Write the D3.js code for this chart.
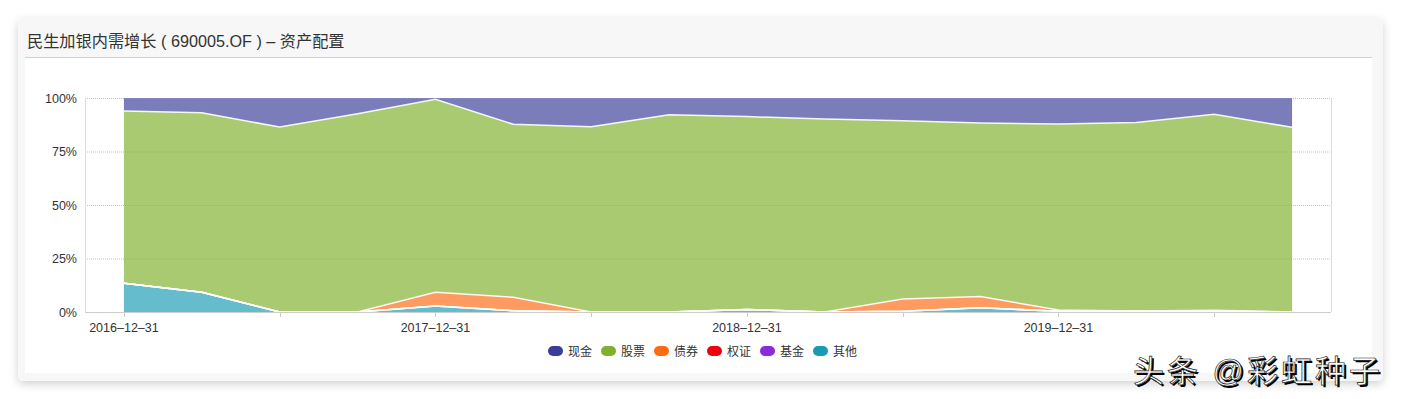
<!DOCTYPE html>
<html>
<head>
<meta charset="utf-8">
<script src="https://cdn.jsdelivr.net/npm/d3@7"></script>
<style>
  body { margin: 0; background: #fff; }
  svg text { font-family: "Liberation Sans", "Noto Sans CJK SC", sans-serif; }
</style>
</head>
<body>
<svg id="chart"></svg>
<script>
var width = 1401;
var height = 399;

// quarterly report dates
var dates = ['2016-12-31', '2017-03-31', '2017-06-30', '2017-09-30', '2017-12-31', '2018-03-31',
  '2018-06-30', '2018-09-30', '2018-12-31', '2019-03-31', '2019-06-30', '2019-09-30',
  '2019-12-31', '2020-03-31', '2020-06-30', '2020-09-30'];

// percentages
var other  = [13.4, 9.2, 0, 0, 2.8, 0.6, 0, 0, 1.2, 0, 0.4, 2.0, 0.3, 0.3, 0.3, 0];
var fund   = [0, 0, 0, 0, 0, 0, 0, 0, 0, 0, 0, 0, 0, 0, 0, 0];
var warrant = [0, 0, 0, 0, 0, 0, 0, 0, 0, 0, 0, 0, 0, 0, 0, 0];
var bonds  = [0, 0, 0, 0, 6.4, 6.3, 0, 0, 0, 0, 5.7, 5.2, 0.6, 0.2, 0.5, 0];
var stocks = [80.5, 83.9, 86.4, 92.6, 90.2, 80.8, 86.6, 92.2, 90.1, 90.2, 83.3, 81.1, 87.0, 88.1, 91.6, 86.3];
var cash   = [6.1, 6.9, 13.6, 7.4, 0.6, 12.3, 13.4, 7.8, 8.7, 9.8, 10.6, 11.7, 12.1, 11.4, 7.6, 13.7];

var yTicks = [0, 25, 50, 75, 100];

var legendNames = ['现金', '股票', '债券', '权证', '基金', '其他'];
var legendColors = ['#3a3d99', '#80b02c', '#ff6a13', '#ee0011', '#8b2ad8', '#1a9bb3'];

// stacking goes bottom up
var seriesKeys = ['其他', '基金', '权证', '债券', '股票', '现金'];
var seriesVals = { '其他': other, '基金': fund, '权证': warrant, '债券': bonds, '股票': stocks, '现金': cash };
var colorOf = {};
legendNames.forEach(function(n, i) { colorOf[n] = legendColors[i]; });

var rows = dates.map(function(d, i) {
  var r = { date: d };
  seriesKeys.forEach(function(k) { r[k] = seriesVals[k][i]; });
  return r;
});

var svg = d3.select('#chart')
    .attr('width', width)
    .attr('height', height);

// card
var defs = svg.append('defs');
var f = defs.append('filter').attr('id', 'shadow').attr('x', '-5%').attr('y', '-10%').attr('width', '110%').attr('height', '125%');
f.append('feDropShadow').attr('dx', 0).attr('dy', 3).attr('stdDeviation', 4).attr('flood-color', '#000').attr('flood-opacity', 0.18);

svg.append('rect')
    .attr('x', 18).attr('y', 18).attr('width', 1365).attr('height', 363)
    .attr('rx', 5)
    .attr('fill', '#f7f7f7')
    .attr('filter', 'url(#shadow)');
svg.append('rect')
    .attr('x', 25).attr('y', 58).attr('width', 1347).attr('height', 315)
    .attr('fill', '#fff');
svg.append('line')
    .attr('x1', 25).attr('x2', 1372).attr('y1', 57.5).attr('y2', 57.5)
    .attr('stroke', '#d0d0d0');

svg.append('text')
    .attr('x', 27).attr('y', 47)
    .attr('font-size', 16.2)
    .attr('fill', '#333')
    .text('民生加银内需增长 ( 690005.OF ) – 资产配置');

// plot
var plotLeft = 85, plotRight = 1331, plotTop = 98, plotBottom = 312;

var x = d3.scalePoint()
    .domain(dates)
    .range([plotLeft, plotRight])
    .padding(0.5);

var y = d3.scaleLinear()
    .domain([0, 100])
    .range([plotBottom, plotTop]);

var g = svg.append('g');

var stack = d3.stack().keys(seriesKeys);
var layers = stack(rows);

var area = d3.area()
    .x(function(d) { return x(d.data.date); })
    .y0(function(d) { return y(d[0]); })
    .y1(function(d) { return y(d[1]); });

var line = d3.line()
    .x(function(d) { return x(d.data.date); })
    .y(function(d) { return y(d[1]); });

g.selectAll('path.area')
    .data(layers)
  .enter().append('path')
    .attr('class', 'area')
    .attr('d', area)
    .attr('fill', function(d) { return colorOf[d.key]; })
    .attr('fill-opacity', 0.67);

// grid lines on top of the areas
g.selectAll('line.grid')
    .data(yTicks.filter(function(t) { return t > 0; }))
  .enter().append('line')
    .attr('class', 'grid')
    .attr('x1', plotLeft).attr('x2', plotRight)
    .attr('y1', function(d) { return y(d) + 0.5; })
    .attr('y2', function(d) { return y(d) + 0.5; })
    .attr('stroke', '#999')
    .attr('stroke-opacity', 0.6)
    .attr('stroke-dasharray', '1,1');

g.selectAll('path.edge')
    .data(layers.filter(function(d) { return d.key !== '现金'; }))
  .enter().append('path')
    .attr('class', 'edge')
    .attr('d', line)
    .attr('fill', 'none')
    .attr('stroke', '#fff')
    .attr('stroke-width', 1.5)
    .attr('stroke-opacity', 0.9);

// frame lines
g.append('line')
    .attr('x1', plotLeft + 0.5).attr('x2', plotLeft + 0.5).attr('y1', plotTop).attr('y2', plotBottom)
    .attr('stroke', '#ddd');
g.append('line')
    .attr('x1', plotRight + 0.5).attr('x2', plotRight + 0.5).attr('y1', plotTop).attr('y2', plotBottom)
    .attr('stroke', '#ddd');

// y axis labels
g.selectAll('text.ylab')
    .data(yTicks)
  .enter().append('text')
    .attr('class', 'ylab')
    .attr('x', 77)
    .attr('y', function(d) { return y(d) + 4.5; })
    .attr('text-anchor', 'end')
    .attr('font-size', 12.5)
    .attr('fill', '#333')
    .text(function(d) { return d + '%'; });

// x axis
g.append('line')
    .attr('x1', plotLeft).attr('x2', plotRight).attr('y1', plotBottom + 0.5).attr('y2', plotBottom + 0.5)
    .attr('stroke', '#ccc');

var tickDates = dates.filter(function(d, i) { return i % 2 === 0; });
g.selectAll('line.xtick')
    .data(tickDates)
  .enter().append('line')
    .attr('class', 'xtick')
    .attr('x1', function(d) { return Math.round(x(d)) + 0.5; })
    .attr('x2', function(d) { return Math.round(x(d)) + 0.5; })
    .attr('y1', plotBottom).attr('y2', plotBottom + 5)
    .attr('stroke', '#ccc');

g.selectAll('text.xlab')
    .data(dates.filter(function(d, i) { return i % 4 === 0; }))
  .enter().append('text')
    .attr('class', 'xlab')
    .attr('x', function(d) { return x(d); })
    .attr('y', 332)
    .attr('text-anchor', 'middle')
    .attr('font-size', 12.5)
    .attr('fill', '#333')
    .text(function(d) { return d.replace(/-/g, '–'); });

// legend
var lg = svg.append('g').attr('transform', 'translate(548,346)');
var item = lg.selectAll('g.item')
    .data(legendNames)
  .enter().append('g')
    .attr('class', 'item')
    .attr('transform', function(d, i) { return 'translate(' + (i * 53) + ',0)'; });
item.append('rect')
    .attr('width', 15).attr('height', 10).attr('rx', 5)
    .attr('fill', function(d, i) { return legendColors[i]; });
item.append('text')
    .attr('x', 20).attr('y', 9.5)
    .attr('font-size', 12)
    .attr('fill', '#333')
    .text(function(d) { return d; });

// watermark
var wm = svg.append('g')
    .attr('font-family', '"Noto Sans CJK SC", sans-serif')
    .attr('font-size', 31)
    .attr('letter-spacing', 3);
wm.append('text')
    .attr('x', 1135).attr('y', 384)
    .attr('fill', '#000')
    .text('头条 @彩虹种子');
wm.append('text')
    .attr('x', 1133).attr('y', 382)
    .attr('fill', '#fff')
    .attr('stroke', '#222')
    .attr('stroke-width', 0.7)
    .text('头条 @彩虹种子');
</script>
</body>
</html>
